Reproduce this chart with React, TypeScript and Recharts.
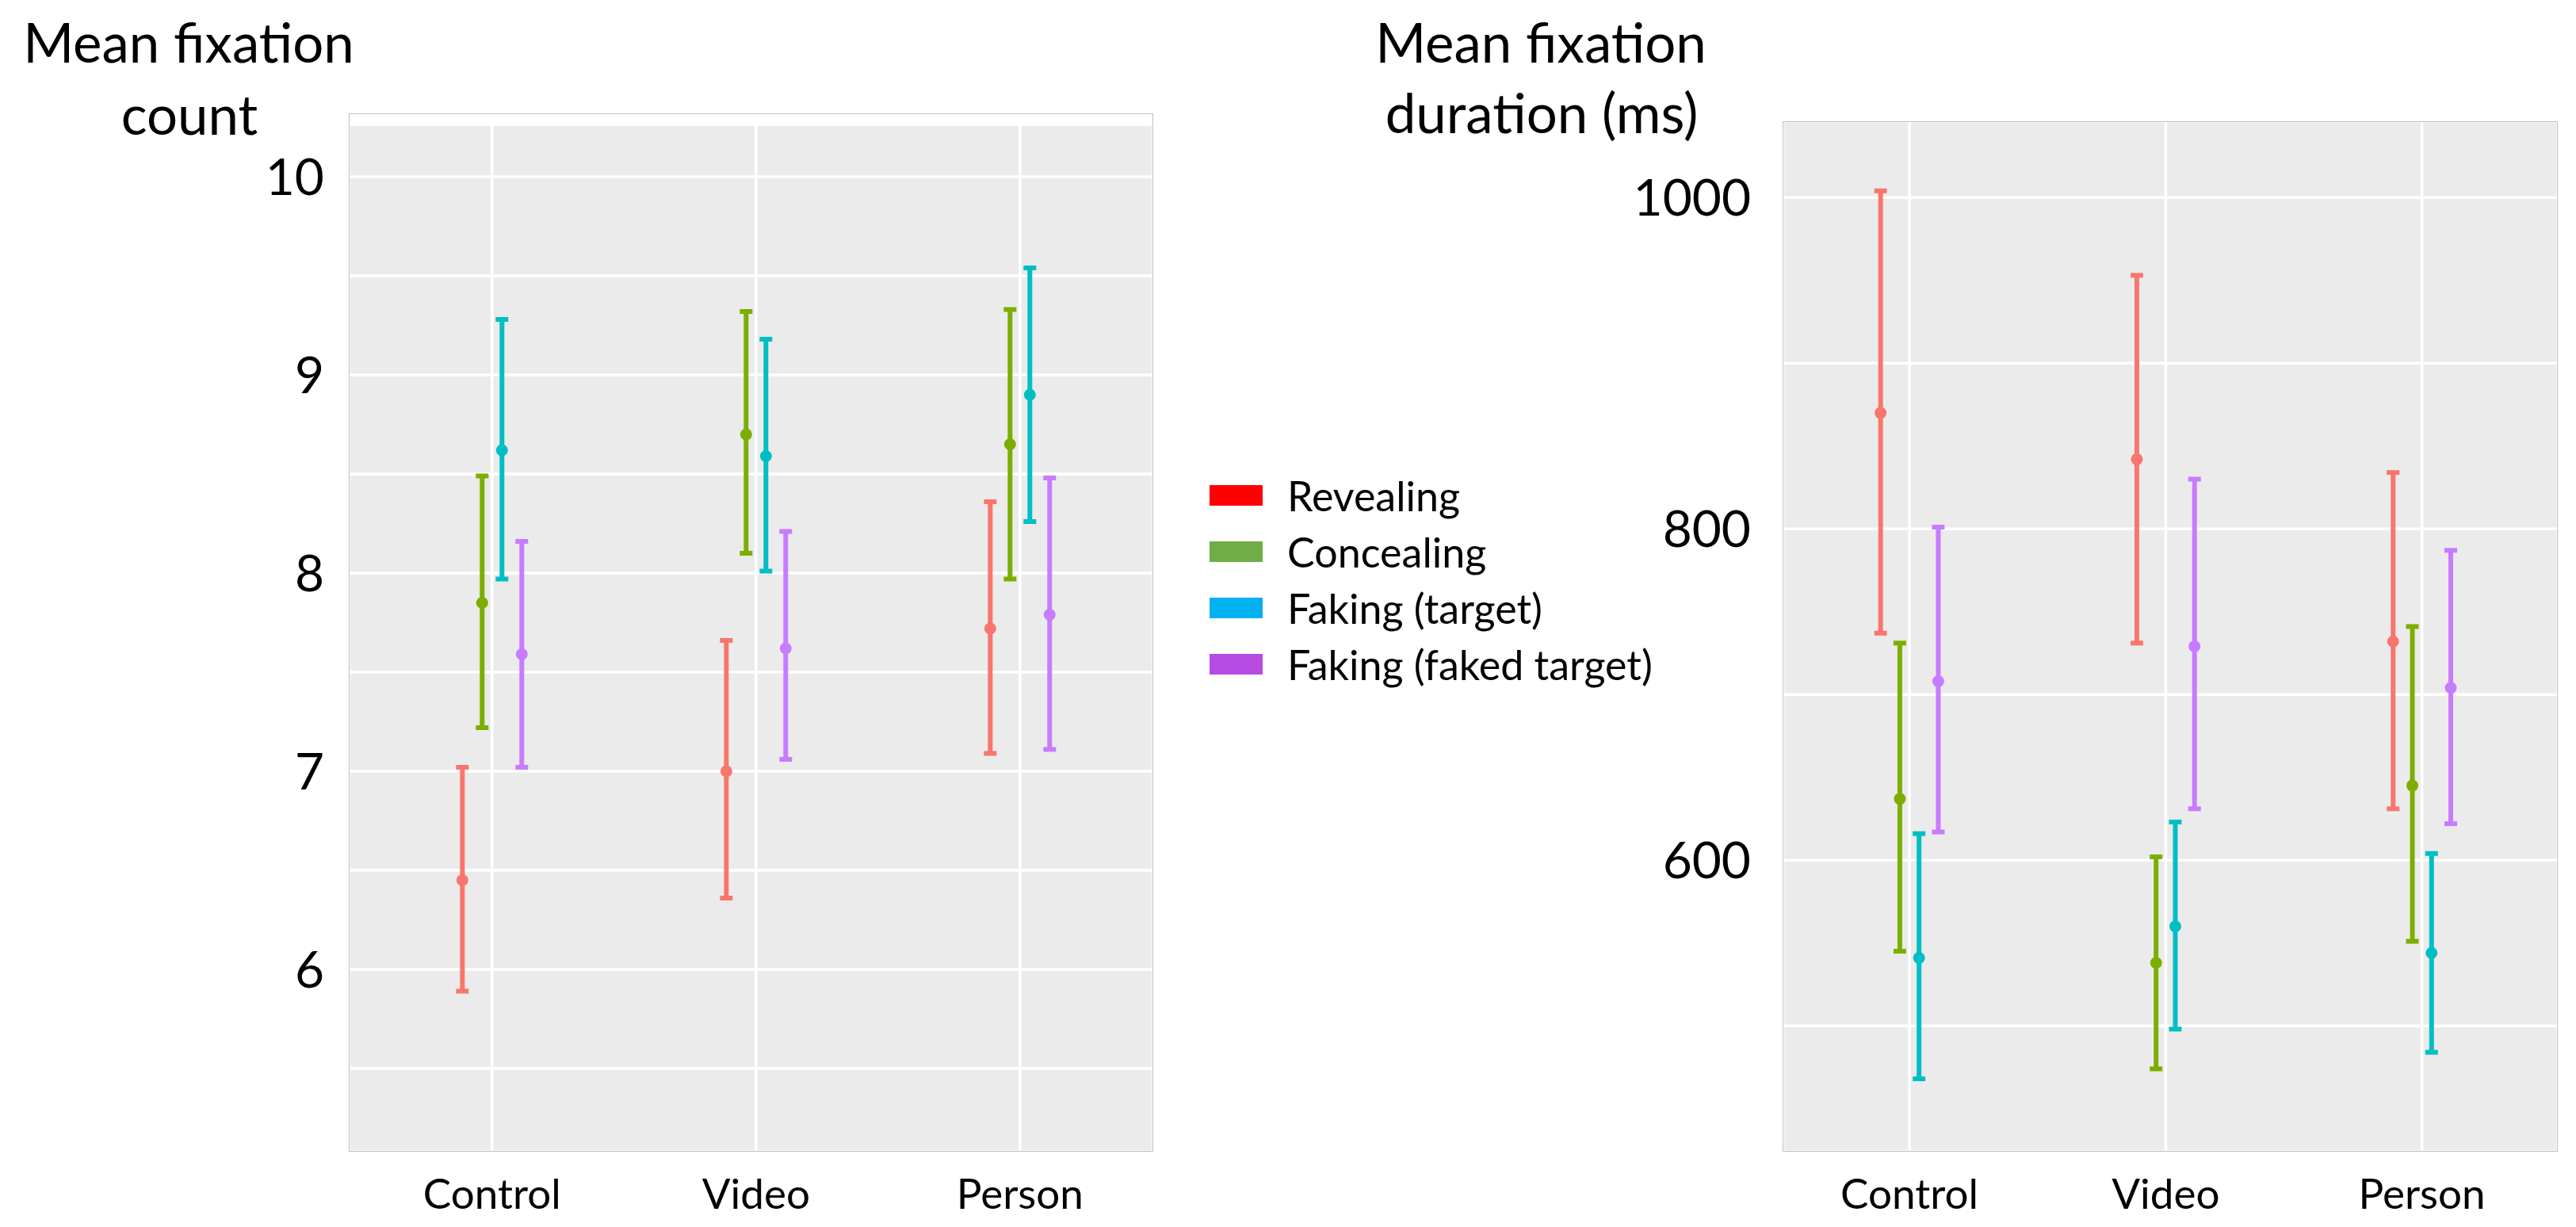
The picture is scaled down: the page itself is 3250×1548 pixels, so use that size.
import React from 'react';
import { ScatterChart, Scatter, ErrorBar, XAxis, YAxis, CartesianGrid, ReferenceArea } from 'recharts';

// conditions on the x axis, groups dodged inside each condition
const categories = ['Control', 'Video', 'Person'];
const groups = ['Revealing', 'Concealing', 'Faking (target)', 'Faking (faked target)'];
const barColors = ['#F8766D', '#7CAE00', '#00BFC4', '#C77CFF'];
const legendColors = ['#FF0000', '#70AD47', '#00B0F0', '#B64AE2'];
const dodge = [-0.1125, -0.0375, 0.0375, 0.1125];

// Mean fixation count (mean, lower, upper) per group, by condition
const revealingCount = [6.45, 7.0, 7.72];
const revealingCountLow = [5.89, 6.36, 7.09];
const revealingCountHigh = [7.02, 7.66, 8.36];
const concealingCount = [7.85, 8.7, 8.65];
const concealingCountLow = [7.22, 8.1, 7.97];
const concealingCountHigh = [8.49, 9.32, 9.33];
const fakingCount = [8.62, 8.59, 8.9];
const fakingCountLow = [7.97, 8.01, 8.26];
const fakingCountHigh = [9.28, 9.18, 9.54];
const fakedCount = [7.59, 7.62, 7.79];
const fakedCountLow = [7.02, 7.06, 7.11];
const fakedCountHigh = [8.16, 8.21, 8.48];

// Mean fixation duration in ms
const revealingDur = [870, 842, 732];
const revealingDurLow = [737, 731, 631];
const revealingDurHigh = [1004, 953, 834];
const concealingDur = [637, 538, 645];
const concealingDurLow = [545, 474, 551];
const concealingDurHigh = [731, 602, 741];
const fakingDur = [541, 560, 544];
const fakingDurLow = [468, 498, 484];
const fakingDurHigh = [616, 623, 604];
const fakedDur = [708, 729, 704];
const fakedDurLow = [617, 631, 622];
const fakedDurHigh = [801, 830, 787];

const countTicks = [5.5, 6, 6.5, 7, 7.5, 8, 8.5, 9, 9.5, 10];
const durTicks = [500, 600, 700, 800, 900, 1000];

const countSeries = [
  [revealingCount, revealingCountLow, revealingCountHigh],
  [concealingCount, concealingCountLow, concealingCountHigh],
  [fakingCount, fakingCountLow, fakingCountHigh],
  [fakedCount, fakedCountLow, fakedCountHigh],
];
const durSeries = [
  [revealingDur, revealingDurLow, revealingDurHigh],
  [concealingDur, concealingDurLow, concealingDurHigh],
  [fakingDur, fakingDurLow, fakingDurHigh],
  [fakedDur, fakedDurLow, fakedDurHigh],
];

const toRows = (mean: number[], low: number[], high: number[], g: number) =>
  categories.map((c, i) => ({
    x: i + 1 + dodge[g],
    y: mean[i],
    err: [mean[i] - low[i], high[i] - mean[i]],
  }));

const FONT = 'Lato, "Open Sans", sans-serif';

interface PanelProps {
  series: number[][][];
  ticks: number[];
  yDomain: [number, number];
  xDomain: [number, number];
  showTick: (v: number) => boolean;
  width: number;
  axisWidth: number;
  top: number;
  right: number;
  tickGap: number;
  children?: React.ReactNode;
}

function Panel({ series, ticks, yDomain, xDomain, showTick, width, axisWidth, top, right, tickGap, children }: PanelProps) {
  return (
    <ScatterChart width={width} height={1548} margin={{ top, right, bottom: 0, left: 0 }}>
      <CartesianGrid fill="#EBEBEB" stroke="#FFFFFF" strokeWidth={3.5} />
      <XAxis
        type="number"
        dataKey="x"
        domain={xDomain}
        ticks={[1, 2, 3]}
        interval={0}
        allowDataOverflow
        height={95}
        axisLine={false}
        tickLine={false}
        tickSize={0}
        tickMargin={34}
        tickFormatter={(v: number) => categories[v - 1]}
        tick={{ fontSize: 53, fill: '#000', fontFamily: FONT }}
      />
      <YAxis
        type="number"
        dataKey="y"
        domain={yDomain}
        ticks={ticks}
        interval={0}
        allowDataOverflow
        width={axisWidth}
        axisLine={false}
        tickLine={false}
        tickSize={0}
        tickMargin={tickGap}
        tickFormatter={(v: number) => (showTick(v) ? String(v) : '')}
        tick={{ fontSize: 64, fill: '#000', fontFamily: FONT }}
      />
      {children}
      {series.map(([mean, low, high], g) => (
        <Scatter
          key={groups[g]}
          name={groups[g]}
          data={toRows(mean, low, high, g)}
          fill={barColors[g]}
          isAnimationActive={false}
          shape={(p: any) => <circle cx={p.cx} cy={p.cy} r={7.5} fill={barColors[g]} />}
        >
          <ErrorBar
            dataKey="err"
            direction="y"
            width={8}
            stroke={barColors[g]}
            strokeWidth={6}
            isAnimationActive={false}
          />
        </Scatter>
      ))}
    </ScatterChart>
  );
}

const titleStyle = (left: number, top: number): React.CSSProperties => ({
  position: 'absolute',
  left: left - 300,
  top,
  width: 600,
  textAlign: 'center',
  fontSize: 69,
  lineHeight: '83px',
  fontFamily: FONT,
  color: '#000',
  whiteSpace: 'nowrap',
});

export default function App() {
  return (
    <div style={{ position: 'relative', width: 3250, height: 1548, background: '#fff', fontFamily: FONT }}>
      <style>{'body{margin:0}'}</style>

      <div style={titleStyle(238, 11)}>Mean fixation</div>
      <div style={titleStyle(239, 102)}>count</div>
      <div style={titleStyle(1944, 11)}>Mean fixation</div>
      <div style={titleStyle(1945, 100)}>duration (ms)</div>

      <div style={{ position: 'absolute', left: 0, top: 0 }}>
        <Panel
          series={countSeries}
          ticks={countTicks}
          yDomain={[5.08, 10.32]}
          xDomain={[0.457, 3.505]}
          showTick={(v) => Number.isInteger(v)}
          width={1500}
          axisWidth={440}
          top={143}
          right={45}
          tickGap={31}
        >
          <ReferenceArea y1={10.256} y2={10.32} fill="#FFFFFF" fillOpacity={1} stroke="none" />
        </Panel>
      </div>
      <div style={{ position: 'absolute', left: 440, top: 143, width: 1015, height: 1310, border: '1.5px solid #C0C0C0', boxSizing: 'border-box', pointerEvents: 'none' }} />

      <div style={{ position: 'absolute', left: 1700, top: 0 }}>
        <Panel
          series={durSeries}
          ticks={durTicks}
          yDomain={[424, 1046]}
          xDomain={[0.505, 3.53]}
          showTick={(v) => v % 200 === 0}
          width={1550}
          axisWidth={549}
          top={153}
          right={23}
          tickGap={40}
        />
      </div>
      <div style={{ position: 'absolute', left: 2249, top: 153, width: 978, height: 1300, border: '1.5px solid #C0C0C0', boxSizing: 'border-box', pointerEvents: 'none' }} />

      {/* legend between the two panels */}
      <div style={{ position: 'absolute', left: 1526, top: 589, display: 'flex', flexDirection: 'column' }}>
        {groups.map((g, i) => (
          <div key={g} style={{ height: 71, display: 'flex', alignItems: 'center' }}>
            <div style={{ width: 67, height: 26, background: legendColors[i], marginRight: 31 }} />
            <span style={{ fontSize: 52, lineHeight: '62px', whiteSpace: 'nowrap' }}>{g}</span>
          </div>
        ))}
      </div>
    </div>
  );
}
